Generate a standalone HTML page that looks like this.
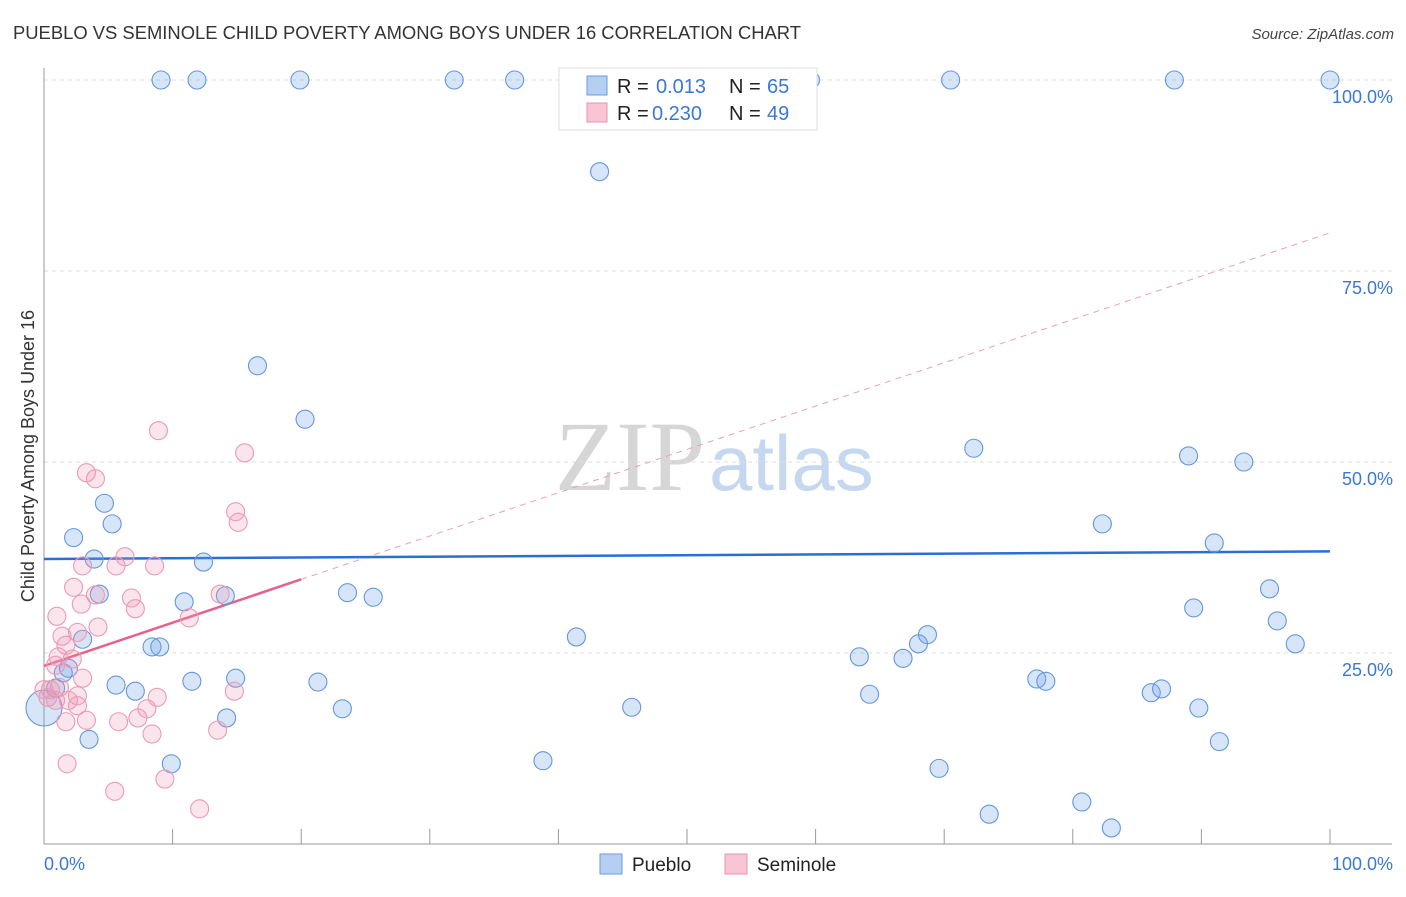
<!DOCTYPE html>
<html><head><meta charset="utf-8"><style>
body{margin:0;background:#fff;font-family:"Liberation Sans",sans-serif;}
svg text{font-family:"Liberation Sans",sans-serif;}
</style></head><body>
<svg id="chart" width="1406" height="892" xmlns="http://www.w3.org/2000/svg">
<text x="13" y="39" font-size="18" fill="#333" textLength="788" lengthAdjust="spacingAndGlyphs">PUEBLO VS SEMINOLE CHILD POVERTY AMONG BOYS UNDER 16 CORRELATION CHART</text>
<text x="1394" y="39" font-size="15" fill="#444" text-anchor="end" font-style="italic">Source: ZipAtlas.com</text>
<text x="555" y="490" font-size="100"><tspan fill="#d6d6d6" font-family="Liberation Serif">ZIP</tspan><tspan fill="#c5d8f0" font-size="78" dx="4">atlas</tspan></text>
<text transform="translate(34,456) rotate(-90)" font-size="18" fill="#333" text-anchor="middle">Child Poverty Among Boys Under 16</text>
<g id="grid"></g><g id="axes"></g><g id="trends"></g><g id="pts"></g>
<g>
<rect x="559" y="68" width="258" height="62" fill="#fff" stroke="#ddd"/>
<rect x="587" y="76" width="20" height="19" fill="#b5cff3" stroke="#6a9bdc"/>
<text x="617" y="93" font-size="20" fill="#222">R =</text>
<text x="656" y="93" font-size="20" fill="#3a78d6">0.013</text>
<text x="729" y="93" font-size="20" fill="#222">N =</text>
<text x="767" y="93" font-size="20" fill="#3a78d6">65</text>
<rect x="587" y="103" width="20" height="19" fill="#f8c5d4" stroke="#e993ad"/>
<text x="617" y="120" font-size="20" fill="#222">R =</text>
<text x="652" y="120" font-size="20" fill="#3a78d6">0.230</text>
<text x="729" y="120" font-size="20" fill="#222">N =</text>
<text x="767" y="120" font-size="20" fill="#3a78d6">49</text>
</g>
<g>
<rect x="600" y="854" width="22" height="20" fill="#b5cff3" stroke="#6a9bdc"/>
<text x="632" y="871" font-size="19" fill="#222">Pueblo</text>
<rect x="725" y="854" width="22" height="20" fill="#f8c5d4" stroke="#e993ad"/>
<text x="757" y="871" font-size="19" fill="#222">Seminole</text>
</g>
</svg>
<script>
const yTicks=[25,50,75,100];
const yTickLabels=["25.0%","50.0%","75.0%","100.0%"];
const xTickLabels=["0.0%","100.0%"];
const puebloX=[9.1,11.9,19.9,31.9,36.6,59.6,70.5,87.9,100,43.2,16.6,20.3,72.3,89.0,93.3,4.7,5.3,2.3,82.3,91.0,3.9,12.4,4.3,23.6,25.6,10.9,14.1,95.3,89.4,95.9,41.4,3.0,68.7,68.0,8.4,9.0,63.4,66.8,97.3,1.9,1.5,5.6,7.1,11.5,14.9,21.3,77.2,77.9,86.1,86.9,64.2,23.2,45.7,89.8,14.2,3.5,91.4,38.8,9.9,69.6,73.5,80.7,83.0,0,0.9];
const puebloY=[100,100,100,100,100,100,100,100,100,88.0,62.6,55.6,51.8,50.8,50.0,44.6,41.9,40.1,41.9,39.4,37.3,36.9,32.7,32.9,32.3,31.7,32.5,33.4,30.9,29.2,27.1,26.8,27.4,26.2,25.8,25.8,24.5,24.3,26.2,23.0,22.4,20.8,20.0,21.3,21.7,21.2,21.6,21.3,19.8,20.3,19.6,17.7,17.9,17.8,16.5,13.7,13.4,10.9,10.5,9.9,3.9,5.5,2.1,17.8,20.4];
const seminoleX=[8.9,15.6,3.3,4.0,14.9,15.1,3.0,6.3,5.6,8.6,2.3,4.0,2.9,6.8,7.1,1.0,4.2,11.3,13.7,2.6,1.4,1.7,1.1,2.2,3.0,0.9,0.5,0.9,1.9,2.6,2.6,3.3,1.7,5.8,7.3,8.8,8.0,14.8,13.5,8.4,1.8,5.5,9.4,12.1,0,0.3,1.2];
const seminoleY=[54.1,51.2,48.6,47.8,43.5,42.1,36.4,37.6,36.4,36.4,33.6,32.6,31.4,32.2,30.8,29.8,28.4,29.6,32.7,27.7,27.2,26.0,24.5,24.2,21.7,23.4,20.2,18.8,18.8,19.4,18.1,16.2,16.0,16.0,16.5,19.2,17.7,20.0,14.9,14.4,10.5,6.9,8.5,4.6,20.2,19.2,20.5];
const puebloTrend=[37.3,38.3];
const seminoleTrend=[23.3,80.0];
const NS="http://www.w3.org/2000/svg";
const X=v=>44+v*12.86, Y=v=>844-v*7.64;
function mk(tag,attrs,parent){const e=document.createElementNS(NS,tag);for(const k in attrs)e.setAttribute(k,attrs[k]);document.getElementById(parent).appendChild(e);return e;}
yTicks.forEach((t,i)=>{
 const g=mk('line',{x1:44,x2:1392,y1:Y(t),y2:Y(t),stroke:'#ddd','stroke-dasharray':'4,4'},'grid');
 
 
 const l=mk('text',{x:1393,y:Y(t)+23,'font-size':18,fill:'#3a78d6','text-anchor':'end'},'grid');l.textContent=yTickLabels[i];
 
 
});
let a=mk('line',{x1:44,x2:44,y1:68,y2:844,stroke:'#999'},'axes');


a=mk('line',{x1:44,x2:1392,y1:844,y2:844,stroke:'#999'},'axes');


for(let i=1;i<=10;i++){const t=mk('line',{x1:X(i*10),x2:X(i*10),y1:829,y2:844,stroke:'#999'},'axes');
 
 }
[[0,'start',44],[100,'end',1393]].forEach((d,i)=>{const t=mk('text',{x:d[2],y:870,'font-size':18,fill:'#3a78d6','text-anchor':d[1]},'axes');t.textContent=xTickLabels[i];
 
 });
function pts(xs,ys,fill,stroke,name){xs.forEach((x,i)=>{const big=(x===0&&name==='pueblo-point'&&ys[i]<18);
 const c=mk('circle',{cx:X(x),cy:Y(ys[i]),r:big?18:9,fill:fill,stroke:stroke,'stroke-width':1.1},'pts');
 
 });}
pts(puebloX,puebloY,'rgba(110,160,230,0.28)','#6596de','pueblo-point');
pts(seminoleX,seminoleY,'rgba(240,150,180,0.25)','#ec9ab3','seminole-point');
const sl=(seminoleTrend[1]-seminoleTrend[0])/100;
let t=mk('line',{x1:X(20),y1:Y(seminoleTrend[0]+sl*20),x2:X(100),y2:Y(seminoleTrend[1]),stroke:'#eaa0b8','stroke-dasharray':'6,5','stroke-width':1},'trends');


t=mk('line',{x1:X(0),y1:Y(seminoleTrend[0]),x2:X(20),y2:Y(seminoleTrend[0]+sl*20),stroke:'#e4628c','stroke-width':2.5},'trends');


t=mk('line',{x1:X(0),y1:Y(puebloTrend[0]),x2:X(100),y2:Y(puebloTrend[1]),stroke:'#2a6fd4','stroke-width':2.5},'trends');


</script>
</body></html>
